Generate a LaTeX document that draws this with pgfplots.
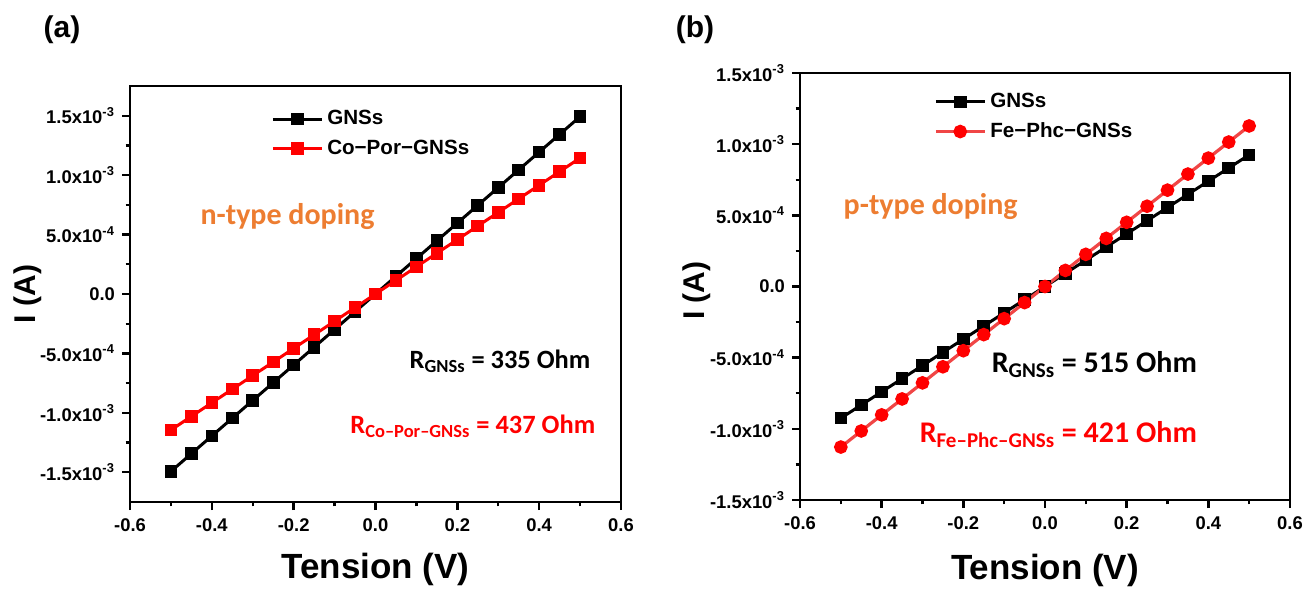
\documentclass[border=0pt]{standalone}
\usepackage{pgfplots}
\pgfplotsset{compat=1.18}
\usepackage{fontspec}
\setmainfont{Liberation Sans}
\newfontfamily\calfont{Carlito}
\definecolor{orng}{RGB}{237,125,49}
\definecolor{fered}{RGB}{240,70,70}

\pgfplotsset{ivstyle/.style={
  scale only axis,
  axis line style={line width=1.4pt},
  every tick/.style={line width=1.2pt, black},
  tick align=outside, xtick pos=bottom, ytick pos=left,
  major tick length=4pt, minor tick length=2.2pt,
  xmin=-0.6, xmax=0.6,
  xtick={-0.6,-0.4,-0.2,0,0.2,0.4,0.6},
  xticklabels={-0.6,-0.4,-0.2,0.0,0.2,0.4,0.6},
  minor x tick num=1, minor y tick num=1,
  scaled y ticks=false,
  tick label style={font=\bfseries\fontsize{9.2}{11}\selectfont},
  xticklabel style={yshift=-1pt},
  xlabel={Tension (V)}, ylabel={I (A)},
  xlabel style={font=\bfseries\fontsize{17.5}{20}\selectfont, anchor=center},
  ylabel style={font=\bfseries\fontsize{15}{18}\selectfont, anchor=center},
  legend style={draw=none, fill=none, anchor=north west, font=\bfseries\fontsize{10.3}{12}\selectfont, row sep=2pt, inner sep=0pt, cells={anchor=west}},
  legend image code/.code={\draw[mark repeat=2,mark phase=2,#1] plot coordinates {(0cm,0cm) (0.43cm,0cm) (0.86cm,0cm)};},
}}

\begin{document}
\begin{tikzpicture}
\useasboundingbox (0,0) rectangle (656pt,295pt);

% ---------- panel (a)
\begin{axis}[ivstyle,
  at={(65pt,44pt)}, anchor=south west,
  width=245.5pt, height=208pt,
  ymin=-1.75e-3, ymax=1.75e-3,
  ytick={-1.5e-3,-1e-3,-5e-4,0,5e-4,1e-3,1.5e-3},
  yticklabels={-1.5x10\textsuperscript{-3},-1.0x10\textsuperscript{-3},-5.0x10\textsuperscript{-4},0.0,5.0x10\textsuperscript{-4},1.0x10\textsuperscript{-3},1.5x10\textsuperscript{-3}},
  ylabel style={at={(axis description cs:-0.208,0.5)}},
  xlabel style={at={(axis description cs:0.5,-0.163)}},
  legend style={at={(axis description cs:0.287,0.952)}},
]
\addplot[black, line width=1.5pt, mark=square*, mark size=2.4pt, mark options={solid}] coordinates {
(-0.50,-1.4925e-3) (-0.45,-1.3433e-3) (-0.40,-1.1940e-3) (-0.35,-1.0448e-3) (-0.30,-0.8955e-3)
(-0.25,-0.7463e-3) (-0.20,-0.5970e-3) (-0.15,-0.4478e-3) (-0.10,-0.2985e-3) (-0.05,-0.1493e-3)
(0,0)
(0.05,0.1493e-3) (0.10,0.2985e-3) (0.15,0.4478e-3) (0.20,0.5970e-3) (0.25,0.7463e-3)
(0.30,0.8955e-3) (0.35,1.0448e-3) (0.40,1.1940e-3) (0.45,1.3433e-3) (0.50,1.4925e-3)};
\addlegendentry{GNSs}
\addplot[red, line width=1.5pt, mark=square*, mark size=2.4pt, mark options={solid}] coordinates {
(-0.50,-1.1442e-3) (-0.45,-1.0297e-3) (-0.40,-0.9153e-3) (-0.35,-0.8009e-3) (-0.30,-0.6865e-3)
(-0.25,-0.5721e-3) (-0.20,-0.4577e-3) (-0.15,-0.3432e-3) (-0.10,-0.2288e-3) (-0.05,-0.1144e-3)
(0,0)
(0.05,0.1144e-3) (0.10,0.2288e-3) (0.15,0.3432e-3) (0.20,0.4577e-3) (0.25,0.5721e-3)
(0.30,0.6865e-3) (0.35,0.8009e-3) (0.40,0.9153e-3) (0.45,1.0297e-3) (0.50,1.1442e-3)};
\addlegendentry{Co−Por−GNSs}
\node[inner sep=0pt, font=\calfont\bfseries\fontsize{15}{18}\selectfont, text=orng] at (axis cs:-0.215,0.655e-3) {n-type doping};
\node[inner sep=0pt, anchor=east, font=\calfont\bfseries\fontsize{13.2}{16}\selectfont] at (axis cs:0.526,-0.569e-3) {R\textsubscript{GNSs} = 335 Ohm};
\node[inner sep=0pt, anchor=east, font=\calfont\bfseries\fontsize{13.2}{16}\selectfont, text=red] at (axis cs:0.538,-1.11e-3) {R\textsubscript{Co–Por–GNSs} = 437 Ohm};
\end{axis}

% ---------- panel (b)
\begin{axis}[ivstyle,
  at={(400pt,45pt)}, anchor=south west,
  width=245pt, height=213.5pt,
  ymin=-1.5e-3, ymax=1.5e-3,
  ytick={-1.5e-3,-1e-3,-5e-4,0,5e-4,1e-3,1.5e-3},
  yticklabels={-1.5x10\textsuperscript{-3},-1.0x10\textsuperscript{-3},-5.0x10\textsuperscript{-4},0.0,5.0x10\textsuperscript{-4},1.0x10\textsuperscript{-3},1.5x10\textsuperscript{-3}},
  ylabel style={at={(axis description cs:-0.21,0.49)}},
  xlabel style={at={(axis description cs:0.5,-0.164)}},
  legend style={at={(axis description cs:0.273,0.963)}},
]
\addplot[black, line width=1.5pt, mark=square*, mark size=2.4pt, mark options={solid}] coordinates {
(-0.50,-0.925e-3) (-0.45,-0.8325e-3) (-0.40,-0.740e-3) (-0.35,-0.6475e-3) (-0.30,-0.555e-3)
(-0.25,-0.4625e-3) (-0.20,-0.370e-3) (-0.15,-0.2775e-3) (-0.10,-0.185e-3) (-0.05,-0.0925e-3)
(0,0)
(0.05,0.0925e-3) (0.10,0.185e-3) (0.15,0.2775e-3) (0.20,0.370e-3) (0.25,0.4625e-3)
(0.30,0.555e-3) (0.35,0.6475e-3) (0.40,0.740e-3) (0.45,0.8325e-3) (0.50,0.925e-3)};
\addlegendentry{GNSs}
\addplot[fered, line width=1.6pt, mark=*, mark size=2.6pt, mark options={solid, fill=red, draw=red}] coordinates {
(-0.50,-1.128e-3) (-0.45,-1.015e-3) (-0.40,-0.902e-3) (-0.35,-0.790e-3) (-0.30,-0.677e-3)
(-0.25,-0.564e-3) (-0.20,-0.451e-3) (-0.15,-0.338e-3) (-0.10,-0.226e-3) (-0.05,-0.113e-3)
(0,0)
(0.05,0.113e-3) (0.10,0.226e-3) (0.15,0.338e-3) (0.20,0.451e-3) (0.25,0.564e-3)
(0.30,0.677e-3) (0.35,0.790e-3) (0.40,0.902e-3) (0.45,1.015e-3) (0.50,1.128e-3)};
\addlegendentry{Fe−Phc−GNSs}
\node[inner sep=0pt, font=\calfont\bfseries\fontsize{15}{18}\selectfont, text=orng] at (axis cs:-0.28,0.56e-3) {p-type doping};
\node[inner sep=0pt, anchor=east, font=\calfont\bfseries\fontsize{15}{18}\selectfont] at (axis cs:0.373,-0.549e-3) {R\textsubscript{GNSs} = 515 Ohm};
\node[inner sep=0pt, anchor=east, font=\calfont\bfseries\fontsize{15}{18}\selectfont, text=red] at (axis cs:0.373,-1.04e-3) {R\textsubscript{Fe–Phc–GNSs} = 421 Ohm};
\end{axis}

\node[font=\bfseries\fontsize{15}{18}\selectfont] at (31pt,280pt) {(a)};
\node[font=\bfseries\fontsize{15}{18}\selectfont] at (347.5pt,280pt) {(b)};
\end{tikzpicture}
\end{document}
